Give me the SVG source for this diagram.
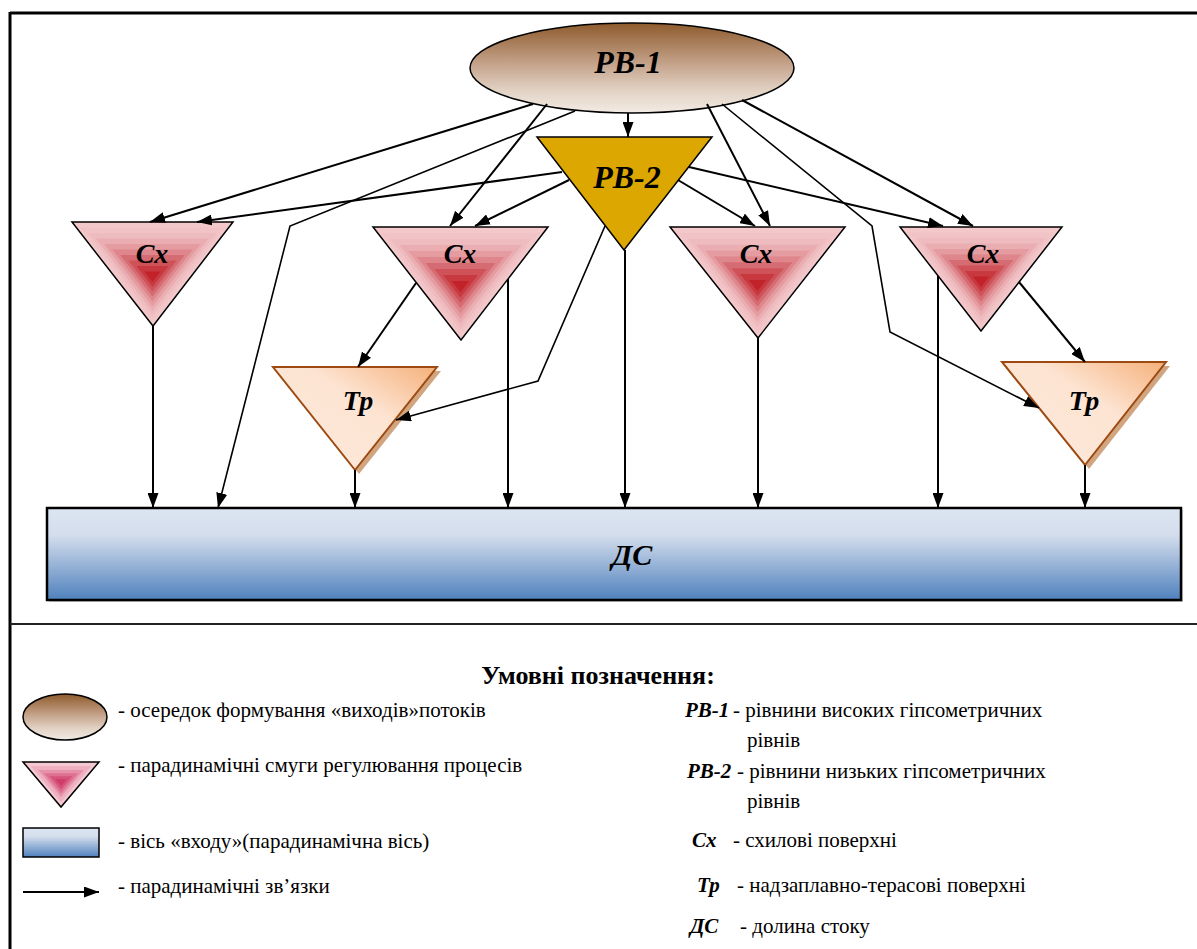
<svg xmlns="http://www.w3.org/2000/svg" width="1197" height="949" viewBox="0 0 1197 949">
<style>
text{font-family:"Liberation Serif","Tinos","Times New Roman","DejaVu Serif","Noto Serif","FreeSerif",Times,serif;fill:#000}
.lbl{font-weight:bold;font-style:italic;text-anchor:middle}
.leg{font-size:21px}
.legb{font-size:21px;font-weight:bold;font-style:italic}
.ttl{font-size:26px;font-weight:bold;text-anchor:middle}
.con{fill:none;stroke:#000;stroke-width:2;marker-end:url(#arr)}
.thin{fill:none;stroke:#000;stroke-width:1.6;marker-end:url(#arr)}
.cxo{fill:none;stroke:#000;stroke-width:1.5;stroke-linejoin:miter}
.tpo{fill:url(#gTp);stroke:#9c4a12;stroke-width:2}
.tps{fill:#c9956a;opacity:0.85}
</style>
<defs>
<marker id="arr" markerUnits="userSpaceOnUse" markerWidth="15" markerHeight="11" viewBox="0 0 15 11" refX="15" refY="5.5" orient="auto">
<path d="M0,0 L15,5.5 L0,11 z" fill="#000"/>
</marker>
<linearGradient id="gEll" x1="0" y1="0" x2="0" y2="1">
<stop offset="0" stop-color="#8e5b2c"/>
<stop offset="0.45" stop-color="#c4a28a"/>
<stop offset="0.75" stop-color="#e2d2c4"/>
<stop offset="1" stop-color="#f2ebe4"/>
</linearGradient>
<linearGradient id="gDS" x1="0" y1="0" x2="0" y2="1">
<stop offset="0" stop-color="#dce6f2"/>
<stop offset="0.3" stop-color="#d3ddec"/>
<stop offset="1" stop-color="#4f81bd"/>
</linearGradient>
<linearGradient id="gTp" x1="1" y1="0" x2="0" y2="1">
<stop offset="0" stop-color="#f5b07a"/>
<stop offset="0.4" stop-color="#fde4d2"/>
<stop offset="1" stop-color="#fde9dc"/>
</linearGradient>
<g id="cxLayers">
<polygon points="0,0 1,0 0.5,1" fill="#f2c8cb"/>
<polygon points="0.05,0.053 0.95,0.053 0.5,0.953" fill="#f1c3c6"/>
<polygon points="0.1,0.106 0.9,0.106 0.5,0.906" fill="#eebbbf"/>
<polygon points="0.15,0.159 0.85,0.159 0.5,0.859" fill="#eaaeb2"/>
<polygon points="0.2,0.212 0.8,0.212 0.5,0.812" fill="#e59ca1"/>
<polygon points="0.25,0.265 0.75,0.265 0.5,0.765" fill="#de868c"/>
<polygon points="0.3,0.318 0.7,0.318 0.5,0.718" fill="#d66c73"/>
<polygon points="0.35,0.371 0.65,0.371 0.5,0.671" fill="#cf5259"/>
<polygon points="0.4,0.424 0.6,0.424 0.5,0.624" fill="#c8383f"/>
<polygon points="0.45,0.477 0.55,0.477 0.5,0.577" fill="#c2222a"/>
</g>
<g id="cxLayersL">
<polygon points="0,0 1,0 0.5,1" fill="#f4c8d2"/>
<polygon points="0.1,0.09 0.9,0.09 0.5,0.89" fill="#eeb0c0"/>
<polygon points="0.2,0.18 0.8,0.18 0.5,0.78" fill="#e690aa"/>
<polygon points="0.275,0.2475 0.725,0.2475 0.5,0.6975" fill="#de7092"/>
<polygon points="0.35,0.315 0.65,0.315 0.5,0.615" fill="#d6527c"/>
<polygon points="0.425,0.3825 0.575,0.3825 0.5,0.5325" fill="#d03c6a"/>
</g>
</defs>

<rect x="0" y="0" width="1197" height="949" fill="#fff"/>

<g id="frame" stroke="#000" fill="none">
<line x1="10" y1="13" x2="1197" y2="13" stroke-width="3"/>
<line x1="10" y1="12" x2="10" y2="949" stroke-width="3"/>
<line x1="10" y1="624" x2="1197" y2="624" stroke-width="2" stroke="#222"/>
</g>

<g id="n-ds">
<rect x="49" y="510" width="1134" height="92" fill="#d0d0d0"/>
<rect x="47" y="508" width="1134" height="92" fill="url(#gDS)" stroke="#000" stroke-width="2.5"/>
<text class="lbl" x="632" y="565" font-size="30">ДС</text>
</g>

<g id="n-rv1">
<ellipse cx="632" cy="68" rx="162" ry="45" fill="url(#gEll)" stroke="#000" stroke-width="1.5"/>
<text class="lbl" x="628" y="73" font-size="32">РВ-1</text>
</g>

<g id="n-rv2">
<polygon points="537,137 712,137 624,250" fill="#dca700" stroke="#000" stroke-width="1.5"/>
<text class="lbl" x="627" y="188" font-size="32">РВ-2</text>
</g>

<g id="n-cx1">
<use href="#cxLayers" transform="translate(72,222) scale(161,104)"/>
<polygon class="cxo" points="72,222 233,222 153,326"/>
<text class="lbl" x="152" y="263" font-size="28">Сх</text>
</g>
<g id="n-cx2">
<use href="#cxLayers" transform="translate(373,227) scale(175,113)"/>
<polygon class="cxo" points="373,227 548,227 461,340"/>
<text class="lbl" x="460" y="263" font-size="28">Сх</text>
</g>
<g id="n-cx3">
<use href="#cxLayers" transform="translate(670,227) scale(175,111)"/>
<polygon class="cxo" points="670,227 845,227 758,338"/>
<text class="lbl" x="756" y="263" font-size="28">Сх</text>
</g>
<g id="n-cx4">
<use href="#cxLayers" transform="translate(900,227) scale(162,104)"/>
<polygon class="cxo" points="900,227 1062,227 981,331"/>
<text class="lbl" x="983" y="263" font-size="28">Сх</text>
</g>

<g id="n-tp1">
<polygon class="tps" points="277,371 441,371 359,474"/>
<polygon class="tpo" points="273,367 437,367 355,470"/>
<text class="lbl" x="358" y="410" font-size="28">Тр</text>
</g>
<g id="n-tp2">
<polygon class="tps" points="1006,366 1170,366 1089,469"/>
<polygon class="tpo" points="1002,362 1166,362 1085,465"/>
<text class="lbl" x="1084" y="410" font-size="28">Тр</text>
</g>

<g id="connectors">
<path class="con" d="M628,113 L628,137"/>
<path class="con" d="M533,104 L150,222"/>
<path class="con" d="M547,104 L450,226"/>
<path class="thin" d="M575,111 L290,226 L218,508"/>
<path class="con" d="M707,104 L770,226"/>
<path class="thin" d="M722,104 L872,226 L890,332 L1039,408"/>
<path class="con" d="M742,100 L973,226"/>
<path class="con" d="M562,172 L197,222"/>
<path class="con" d="M569,180 L475,226"/>
<path class="con" d="M678,180 L755,226"/>
<path class="con" d="M689,167 L943,226"/>
<path class="con" d="M625,250 L625,508"/>
<path class="thin" d="M605,226 L538,381 L396,420"/>
<path class="con" d="M153,326 L153,508"/>
<path class="con" d="M416,283 L358,367"/>
<path class="con" d="M508,279 L508,508"/>
<path class="con" d="M758,338 L758,508"/>
<path class="con" d="M938,276 L938,508"/>
<path class="con" d="M1019,282 L1085,362"/>
<path class="con" d="M355,470 L355,508"/>
<path class="con" d="M1085,465 L1085,508"/>
</g>

<g id="legend">
<text class="ttl" x="598" y="684">Умовні позначення:</text>
<ellipse cx="65" cy="717" rx="42" ry="23" fill="url(#gEll)" stroke="#000" stroke-width="1.5"/>
<text class="leg" x="118" y="717">- осередок формування «виходів»потоків</text>
<use href="#cxLayersL" transform="translate(23,762) scale(76,45)"/>
<polygon class="cxo" points="23,762 99,762 61,807"/>
<text class="leg" x="118" y="772">- парадинамічні смуги регулювання процесів</text>
<rect x="23" y="828" width="76" height="29" fill="url(#gDS)" stroke="#000" stroke-width="1.5"/>
<text class="leg" x="118" y="848">- вісь «входу»(парадинамічна вісь)</text>
<path class="con" d="M23,892 L99,892"/>
<text class="leg" x="118" y="893">- парадинамічні зв’язки</text>

<text class="legb" x="685" y="717">РВ-1</text>
<text class="leg" x="733" y="717">- рівнини високих гіпсометричних</text>
<text class="leg" x="747" y="747">рівнів</text>
<text class="legb" x="687" y="778">РВ-2</text>
<text class="leg" x="737" y="778">- рівнини низьких гіпсометричних</text>
<text class="leg" x="747" y="808">рівнів</text>
<text class="legb" x="692" y="847">Сх</text>
<text class="leg" x="733" y="847">- схилові поверхні</text>
<text class="legb" x="697" y="892">Тр</text>
<text class="leg" x="737" y="892">- надзаплавно-терасові поверхні</text>
<text class="legb" x="690" y="933">ДС</text>
<text class="leg" x="740" y="933">- долина стоку</text>
</g>
</svg>
